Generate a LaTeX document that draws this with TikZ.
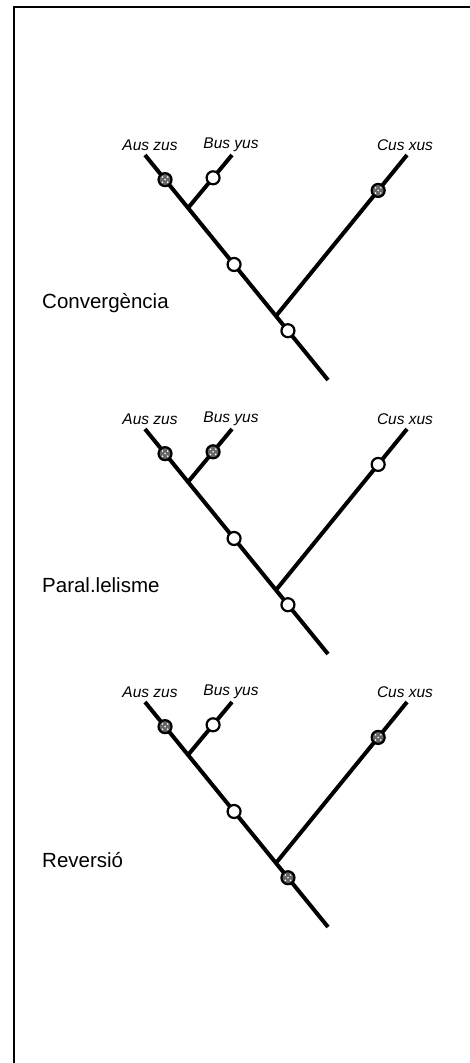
\documentclass[tikz,border=0pt]{standalone}
\usepackage{fontspec}
\setmainfont{Liberation Sans}
\usetikzlibrary{calc}
\tikzset{
  branch/.style={line width=4pt},
  openmark/.style={circle, draw, line width=2.2pt, fill=white, minimum size=13pt, inner sep=0pt},
  dotmark/.style={openmark, fill=black!60, path picture={
      \foreach \dx/\dy in {-2.6/-2.6, 2.6/-2.6, -2.6/2.6, 2.6/2.6, 0/0}
        \fill[white] ($(path picture bounding box.center)+(\dx pt,\dy pt)$) circle (0.9pt);}},
  taxon/.style={font=\fontsize{15.5}{18}\selectfont\itshape, inner sep=0pt},
  caption/.style={font=\fontsize{20.5}{24}\selectfont, anchor=west, inner sep=0pt},
  frame/.style={line width=2.5pt},
  % one three-taxon cladogram; the arguments are the marker styles on
  % the Aus, Bus and Cus branches and on the stem below the main fork
  pics/cladogram/.style n args={4}{code={
      \coordinate (-aus)  at (145,155);
      \coordinate (-bus)  at (232,155);
      \coordinate (-cus)  at (407,155);
      \coordinate (-fork) at (188,208);
      \coordinate (-main) at (276,316);
      \coordinate (-root) at (328,380);
      \draw[branch] (-aus) -- (-root);
      \draw[branch] (-fork) -- (-bus);
      \draw[branch] (-main) -- (-cus);
      \path (-aus) -- (-main)
        node[#1, pos=0.153] (-m-aus) {}
        node[openmark, pos=0.68] (-m-stem) {};
      \path (-fork) -- (-bus) node[#2, pos=0.57] (-m-bus) {};
      \path (-main) -- (-cus) node[#3, pos=0.78] (-m-cus) {};
      \path (-main) -- (-root) node[#4, pos=0.23] (-m-root) {};
      \node[taxon] (-l-aus) at (150,145) {Aus zus};
      \node[taxon] (-l-bus) at (231,145) {Bus yus};
      \node[taxon] (-l-cus) at (405,145) {Cus xus};
  }}
}
\begin{document}
\begin{tikzpicture}[x=1pt,y=-1pt]
  \useasboundingbox (0,0) rectangle (470,1063);
  \draw[frame] (14,1070) -- (14,7) -- (480,7);

  \pic (t1) at (0,0)   {cladogram={dotmark}{openmark}{dotmark}{openmark}};
  \pic (t2) at (0,274) {cladogram={dotmark}{dotmark}{openmark}{openmark}};
  \pic (t3) at (0,547) {cladogram={dotmark}{openmark}{dotmark}{dotmark}};

  \node[caption] (cap1) at (42,303) {Convergència};
  \node[caption] (cap2) at (42,585) {Paral.lelisme};
  \node[caption] (cap3) at (42,860) {Reversió};
\end{tikzpicture}
\end{document}
